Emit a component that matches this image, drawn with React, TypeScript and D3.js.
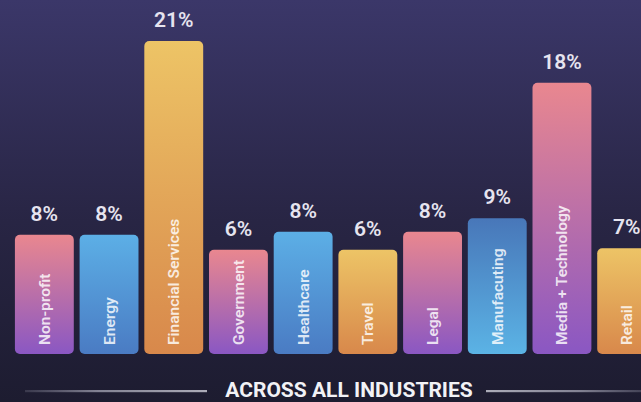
import { useMemo } from 'react';
import { scaleBand, scaleLinear } from 'd3';

const categories = [
  'Non-profit',
  'Energy',
  'Financial Services',
  'Government',
  'Healthcare',
  'Travel',
  'Legal',
  'Manufacuting',
  'Media + Technology',
  'Retail',
];

// bar heights (the printed labels are kept separately)
const barValues = [8, 8, 21, 7, 8.2, 7, 8.2, 9.1, 18.2, 7.1];
const percentLabels = ['8%', '8%', '21%', '6%', '8%', '6%', '8%', '9%', '18%', '7%'];
const palettes = ['pink', 'blue', 'gold', 'pink', 'blue', 'gold', 'pink', 'blueRev', 'pink', 'gold'];

const title = 'ACROSS ALL INDUSTRIES';

const gradients: Record<string, [string, string]> = {
  pink: ['#e9878f', '#8a57c3'],
  blue: ['#5cafe6', '#4a7bc3'],
  gold: ['#edc466', '#d8884b'],
  blueRev: ['#4877b9', '#5bb3e5'],
};

const W = 641;
const H = 402;

export default function App() {
  const x = useMemo(
    () => scaleBand<string>().domain(categories).range([12, 659]).paddingInner(0.09).paddingOuter(0.045),
    []
  );
  const y = useMemo(() => scaleLinear().domain([0, 21]).range([354, 41]), []);
  const base = y(0);

  return (
    <div style={{ position: 'fixed', left: 0, top: 0 }}>
      <svg width={W} height={H} style={{ display: 'block' }} fontFamily="Roboto, 'Noto Sans', sans-serif">
        <defs>
          <linearGradient id="bg" x1="0" y1="0" x2="0" y2="1">
            <stop offset="0%" stopColor="#3b3769" />
            <stop offset="55%" stopColor="#282544" />
            <stop offset="100%" stopColor="#1d1c30" />
          </linearGradient>
          {Object.entries(gradients).map(([key, [top, bottom]]) => (
            <linearGradient key={key} id={`g-${key}`} x1="0" y1="0" x2="0" y2="1">
              <stop offset="0%" stopColor={top} />
              <stop offset="100%" stopColor={bottom} />
            </linearGradient>
          ))}
          <linearGradient id="lineL" x1="0" y1="0" x2="1" y2="0">
            <stop offset="0%" stopColor="#8e8ea0" stopOpacity={0.25} />
            <stop offset="40%" stopColor="#9c9cac" stopOpacity={0.8} />
            <stop offset="100%" stopColor="#b4b4c0" stopOpacity={0.95} />
          </linearGradient>
          <linearGradient id="lineR" x1="0" y1="0" x2="1" y2="0">
            <stop offset="0%" stopColor="#b4b4c0" stopOpacity={0.95} />
            <stop offset="60%" stopColor="#9c9cac" stopOpacity={0.8} />
            <stop offset="100%" stopColor="#8e8ea0" stopOpacity={0.35} />
          </linearGradient>
        </defs>
        <rect x={0} y={0} width={W} height={H} fill="url(#bg)" />

        {categories.map((cat, i) => {
          const bx = x(cat) ?? 0;
          const bw = x.bandwidth();
          const top = y(barValues[i]);
          const cx = bx + bw / 2;
          return (
            <g key={cat}>
              <rect x={bx} y={top} width={bw} height={base - top} rx={5} ry={5} fill={`url(#g-${palettes[i]})`} />
              <text
                x={cx}
                y={top - 14}
                textAnchor="middle"
                fontSize={21}
                fontWeight={600}
                fill="#e6e4ef"
              >
                {percentLabels[i]}
              </text>
              <text
                transform={`translate(${cx + 5.5},${base - 9}) rotate(-90)`}
                textAnchor="start"
                fontSize={15.5}
                fontWeight={600}
                fill="rgba(255,255,255,0.82)"
              >
                {cat}
              </text>
            </g>
          );
        })}

        <rect x={25} width={182} y={390} height={2.2} fill="url(#lineL)" />
        <rect x={486} width={155} y={390} height={2.2} fill="url(#lineR)" />
        <text x={349} y={396.5} textAnchor="middle" fontSize={21} fontWeight={700} fill="#f2f2f6">
          {title}
        </text>
      </svg>
    </div>
  );
}
